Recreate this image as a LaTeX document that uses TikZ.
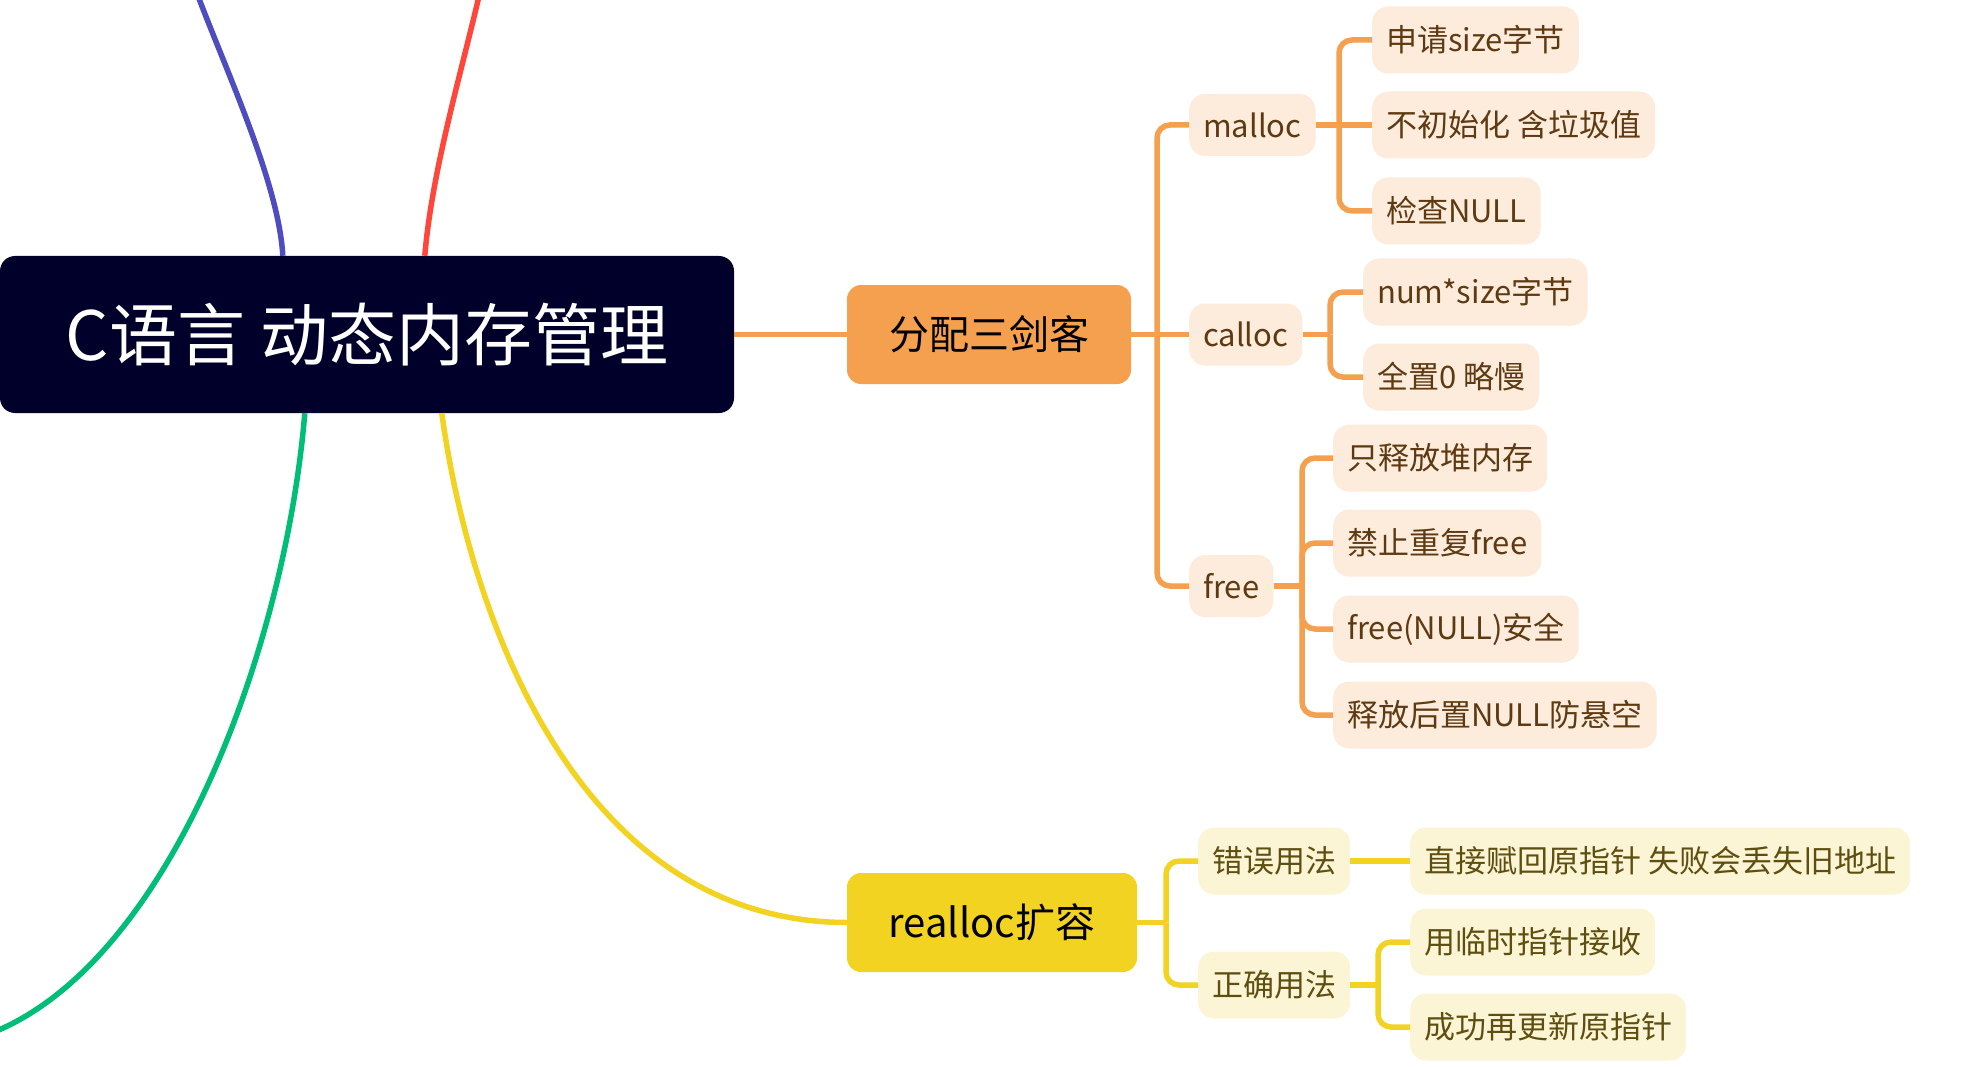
\documentclass[tikz,border=0pt]{standalone}
\usepackage{fontspec}
\setmainfont{Noto Sans CJK SC}
\usetikzlibrary{calc}
\definecolor{rootbg}{HTML}{00002A}
\definecolor{orangeM}{HTML}{F5A04E}
\definecolor{orangeL}{HTML}{FDEBDC}
\definecolor{brownT}{HTML}{5E3A12}
\definecolor{yellowM}{HTML}{F2D322}
\definecolor{yellowL}{HTML}{FCF5D5}
\definecolor{oliveT}{HTML}{5E4F10}
\definecolor{purpleC}{HTML}{4F4CBF}
\definecolor{redC}{HTML}{FF463B}
\definecolor{greenC}{HTML}{00BE78}
\begin{document}
\begin{tikzpicture}[x=1pt,y=-1pt,
  rootnode/.style={fill=rootbg, text=white, rounded corners=15pt, minimum width=734pt, minimum height=157pt, inner sep=0pt, font=\fontsize{68}{68}\selectfont},
  mainbox/.style={rounded corners=14pt, text=black, inner sep=0pt, font=\fontsize{40}{40}\selectfont},
  lvl/.style={rounded corners=16pt, inner xsep=14pt, inner ysep=0pt, anchor=west, font=\fontsize{31}{31}\selectfont},
  otwo/.style={lvl, fill=orangeL, text=brownT, minimum height=62pt},
  othree/.style={lvl, fill=orangeL, text=brownT, minimum height=67pt},
  ytwo/.style={lvl, fill=yellowL, text=oliveT, minimum height=67pt},
  ythree/.style={lvl, fill=yellowL, text=oliveT, minimum height=67pt},
  olink/.style={draw=orangeM, line width=5.5pt, rounded corners=13pt},
  ylink/.style={draw=yellowM, line width=5.5pt, rounded corners=13pt},
  curve/.style={line width=5.5pt}
]
\useasboundingbox (0,0) rectangle (1964,1067);

% nodes
\node[rootnode] (root) at (367,334.5) {C语言 动态内存管理};
\node[mainbox, fill=orangeM, minimum width=284pt, minimum height=99pt] (fp) at (989,334.5) {分配三剑客};
\node[mainbox, fill=yellowM, minimum width=290pt, minimum height=99pt] (re) at (992,922.5) {realloc扩容};

\node[otwo] (ma) at (1189,125) {malloc};
\node[otwo] (ca) at (1189,334.5) {calloc};
\node[otwo] (fr) at (1189,586) {free};

\node[othree] (m1) at (1372,40) {申请size字节};
\node[othree] (m2) at (1372,125) {不初始化 含垃圾值};
\node[othree] (m3) at (1372,211) {检查NULL};

\node[othree] (c1) at (1363,292) {num*size字节};
\node[othree] (c2) at (1363,377) {全置0 略慢};

\node[othree] (f1) at (1333,458) {只释放堆内存};
\node[othree] (f2) at (1333,543) {禁止重复free};
\node[othree] (f3) at (1333,629) {free(NULL)安全};
\node[othree] (f4) at (1333,715) {释放后置NULL防悬空};

\node[ytwo] (r1) at (1198,861) {错误用法};
\node[ytwo] (r2) at (1198,985) {正确用法};
\node[ythree] (r11) at (1410,861) {直接赋回原指针 失败会丢失旧地址};
\node[ythree] (r21) at (1410,942) {用临时指针接收};
\node[ythree] (r22) at (1410,1027) {成功再更新原指针};

% junction points
\coordinate (jfp) at (fp.east -| 1157,0);
\coordinate (jma) at (ma.east -| 1339,0);
\coordinate (jca) at (ca.east -| 1330,0);
\coordinate (jfr) at (fr.east -| 1302,0);
\coordinate (jre) at (re.east -| 1166,0);
\coordinate (jr2) at (r2.east -| 1378,0);

% free ends of the outer curves
\coordinate (pend) at (198,-4);
\coordinate (rend) at (479,-4);
\coordinate (gend) at (-6,1032);

% root curves
\draw[curve, purpleC] ($(root.north west)+(283,0)$) .. controls (279,185) and (228,75) .. (pend);
\draw[curve, redC] ($(root.north west)+(425,0)$) .. controls (432,170) and (462,70) .. (rend);
\draw[curve, greenC] ($(root.south west)+(305,0)$) .. controls (285,650) and (170,960) .. (gend);
\draw[curve, yellowM] ($(root.south west)+(442,0)$) .. controls (470,620) and (580,922) .. (re.west);

% orange branch
\draw[olink] (root.east) -- (fp.west);
\draw[olink] (fp.east) -- (ca.west);
\draw[olink] (jfp) |- (ma.west);
\draw[olink] (jfp) |- (fr.west);

\draw[olink] (ma.east) -- (m2.west);
\draw[olink] (jma) |- (m1.west);
\draw[olink] (jma) |- (m3.west);

\draw[olink] (ca.east) -- (jca);
\draw[olink] (jca) |- (c1.west);
\draw[olink] (jca) |- (c2.west);

\draw[olink] (fr.east) -- (jfr);
\draw[olink] (jfr) |- (f1.west);
\draw[olink] (jfr) |- (f2.west);
\draw[olink] (jfr) |- (f3.west);
\draw[olink] (jfr) |- (f4.west);

% yellow branch
\draw[ylink] (re.east) -- (jre);
\draw[ylink] (jre) |- (r1.west);
\draw[ylink] (jre) |- (r2.west);
\draw[ylink] (r1.east) -- (r11.west);
\draw[ylink] (r2.east) -- (jr2);
\draw[ylink] (jr2) |- (r21.west);
\draw[ylink] (jr2) |- (r22.west);
\end{tikzpicture}
\end{document}
